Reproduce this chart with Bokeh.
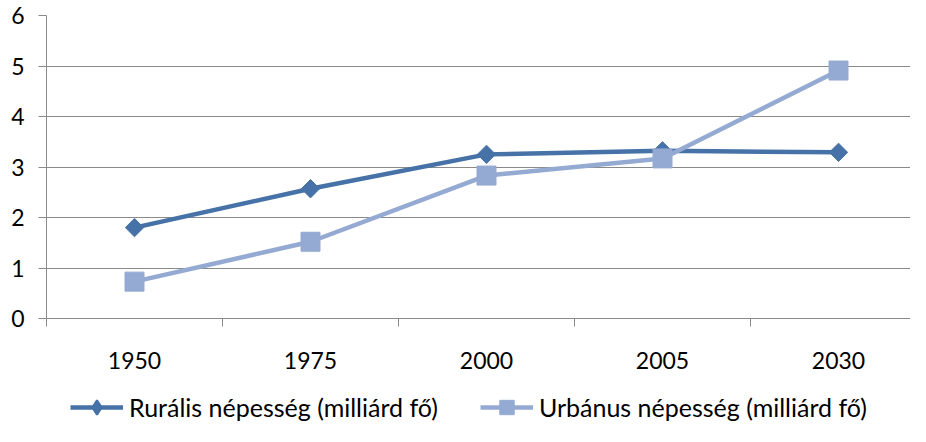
import math
from bokeh.plotting import figure
from bokeh.layouts import column
from bokeh.models import Range1d, FixedTicker, Legend, LegendItem
from bokeh.embed import file_html
from bokeh.resources import INLINE

years = ["1950", "1975", "2000", "2005", "2030"]
rural = [1.80, 2.57, 3.25, 3.32, 3.29]
urban = [0.73, 1.52, 2.83, 3.17, 4.91]
labels = ["Rurális népesség (milliárd fő)", "Urbánus népesség (milliárd fő)"]

x_pos = [i + 0.5 for i in range(len(years))]

FONT = "Lato"
RURAL_C = "#4672a8"
URBAN_C = "#94aad2"
GRID_C = "#8a8a8a"

LEG_H = 38

p = figure(width=910, height=426 - LEG_H, output_backend="svg", toolbar_location=None,
           x_range=Range1d(0, 4.909), y_range=Range1d(0, 6),
           min_border_left=46, min_border_right=0, min_border_top=15,
           min_border_bottom=426 - LEG_H - 318)
p.outline_line_color = None

p.xaxis.ticker = FixedTicker(ticks=x_pos, minor_ticks=list(range(len(years) + 1)))
p.xaxis.major_label_overrides = {x: y for x, y in zip(x_pos, years)}
p.xaxis.major_tick_out = 0
p.xaxis.major_tick_in = 0
p.xaxis.minor_tick_out = 8
p.xaxis.minor_tick_in = 0
p.xaxis.minor_tick_line_color = GRID_C
p.xaxis.axis_line_color = GRID_C
p.xaxis.major_label_standoff = 25
p.xaxis.major_label_text_font = FONT
p.xaxis.major_label_text_font_size = "23px"
p.xaxis.major_label_text_color = "#000000"

p.yaxis.ticker = FixedTicker(ticks=[0, 1, 2, 3, 4, 5, 6])
p.yaxis.major_tick_out = 8
p.yaxis.major_tick_in = 0
p.yaxis.minor_tick_out = 0
p.yaxis.minor_tick_in = 0
p.yaxis.major_tick_line_color = GRID_C
p.yaxis.axis_line_color = GRID_C
p.yaxis.major_label_standoff = 14
p.yaxis.major_label_text_font = FONT
p.yaxis.major_label_text_font_size = "23px"
p.yaxis.major_label_text_color = "#000000"

p.xgrid.grid_line_color = None
p.ygrid.grid_line_color = GRID_C
p.ygrid.grid_line_width = 1

p.line(x_pos, rural, line_color=RURAL_C, line_width=4.5)
p.scatter(x_pos, rural, marker="square", angle=math.pi / 4, size=13,
          fill_color=RURAL_C, line_color=RURAL_C)
p.line(x_pos, urban, line_color=URBAN_C, line_width=4.5)
p.scatter(x_pos, urban, marker="square", size=19,
          fill_color=URBAN_C, line_color=URBAN_C)

# legend strip below the chart (series re-drawn out of view, used only as legend keys)
q = figure(width=910, height=LEG_H, output_backend="svg", toolbar_location=None,
           x_axis_type=None, y_axis_type=None,
           x_range=Range1d(0, 4.909), y_range=Range1d(100, 101),
           min_border_left=0, min_border_right=0, min_border_top=0,
           min_border_bottom=0)
q.outline_line_color = None
q.xgrid.grid_line_color = None
q.ygrid.grid_line_color = None
k1 = q.line(x_pos, rural, line_color=RURAL_C, line_width=4.5)
d1 = q.scatter(x_pos, rural, marker="diamond", size=16,
               fill_color=RURAL_C, line_color=RURAL_C, line_width=2)
k2 = q.line(x_pos, urban, line_color=URBAN_C, line_width=4.5)
d2 = q.scatter(x_pos, urban, marker="square", size=19,
               fill_color=URBAN_C, line_color=URBAN_C)

legend = Legend(items=[
    LegendItem(label=labels[0], renderers=[k1, d1]),
    LegendItem(label=labels[1], renderers=[k2, d2]),
], orientation="horizontal", location=(24, 1))
legend.glyph_width = 53
legend.glyph_height = 36
legend.label_standoff = 6
legend.spacing = 42
legend.padding = 0
legend.margin = 0
legend.border_line_color = None
legend.background_fill_alpha = 0
legend.label_text_font = FONT
legend.label_text_font_size = "25px"
legend.label_text_color = "#000000"
q.add_layout(legend, "center")

layout = column(p, q, spacing=0)
open("out.html", "w").write(file_html(layout, INLINE))
